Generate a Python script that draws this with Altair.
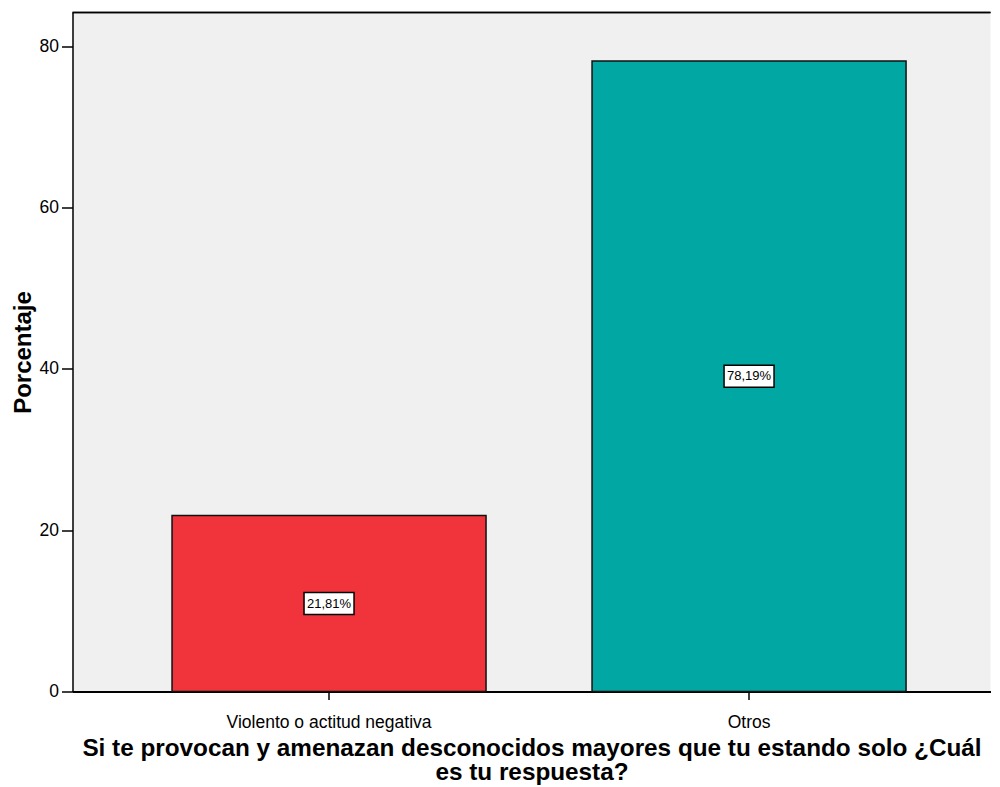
import altair as alt
import pandas as pd

categories = ["Violento o actitud negativa", "Otros"]
values = [21.81, 78.19]
labels = ["21,81%", "78,19%"]
colors = ["#F1343C", "#00A7A3"]
y_ticks = [0, 20, 40, 60, 80]

df = pd.DataFrame({"cat": categories, "v": values, "lab": labels})

W = 918
H = 679
FONT = "Liberation Sans"

x_enc = alt.X(
    "cat:N",
    sort=categories,
    scale=alt.Scale(paddingInner=0.2524, paddingOuter=0.219, align=0.541),
    axis=alt.Axis(
        title=["Si te provocan y amenazan desconocidos mayores que tu estando solo ¿Cuál",
               "es tu respuesta?"],
        titleFont=FONT, titleFontSize=24.3, titleFontWeight="bold", titleColor="black",
        titleLineHeight=24.5, titlePadding=5,
        labelFont=FONT, labelFontSize=17.5, labelColor="black", labelAngle=0, labelPadding=14,
        labelLimit=0,
        tickSize=8, tickColor="black", tickWidth=1.5,
        domainColor="black", domainWidth=2, grid=False,
    ),
)

y_scale = alt.Scale(domain=[0, 84.2], nice=False, zero=True)
y_axis = alt.Axis(
    values=y_ticks, title="Porcentaje",
    titleFont=FONT, titleFontSize=24, titleFontWeight="bold", titleColor="black",
    titlePadding=4,
    labelFont=FONT, labelFontSize=17.5, labelColor="black", labelPadding=3,
    tickSize=11, tickColor="black", tickWidth=1.5,
    domainColor="black", domainWidth=1.5, grid=False,
)

bars = alt.Chart(df).mark_bar(stroke="#111111", strokeWidth=1.5).encode(
    x=x_enc,
    y=alt.Y("v:Q", scale=y_scale, axis=y_axis),
    color=alt.Color("cat:N", scale=alt.Scale(domain=categories, range=colors), legend=None),
)

boxes = alt.Chart(df).transform_calculate(
    b0="datum.v / 2 - 1.36", b1="datum.v / 2 + 1.36"
).mark_bar(width=50, fill="white", stroke="black", strokeWidth=1.5).encode(
    x=alt.X("cat:N", sort=categories),
    y=alt.Y("b0:Q", scale=y_scale),
    y2="b1:Q",
)

texts = alt.Chart(df).transform_calculate(
    mid="datum.v / 2"
).mark_text(font=FONT, fontSize=13, color="black", baseline="middle", align="center").encode(
    x=alt.X("cat:N", sort=categories),
    y=alt.Y("mid:Q", scale=y_scale),
    text="lab:N",
)

top_line = alt.Chart(df).mark_rule(color="black", strokeWidth=1.5).encode(
    x=alt.value(0), x2=alt.value(W), y=alt.value(0)
)

chart = alt.layer(bars, boxes, texts, top_line).properties(
    width=W, height=H,
    background="white",
    padding={"left": 2.5, "top": 3.5, "right": 0, "bottom": 0},
).configure_view(stroke=None, fill="#F0F0F0")

chart.save("out.html", embed_options={"renderer": "svg", "actions": False})
